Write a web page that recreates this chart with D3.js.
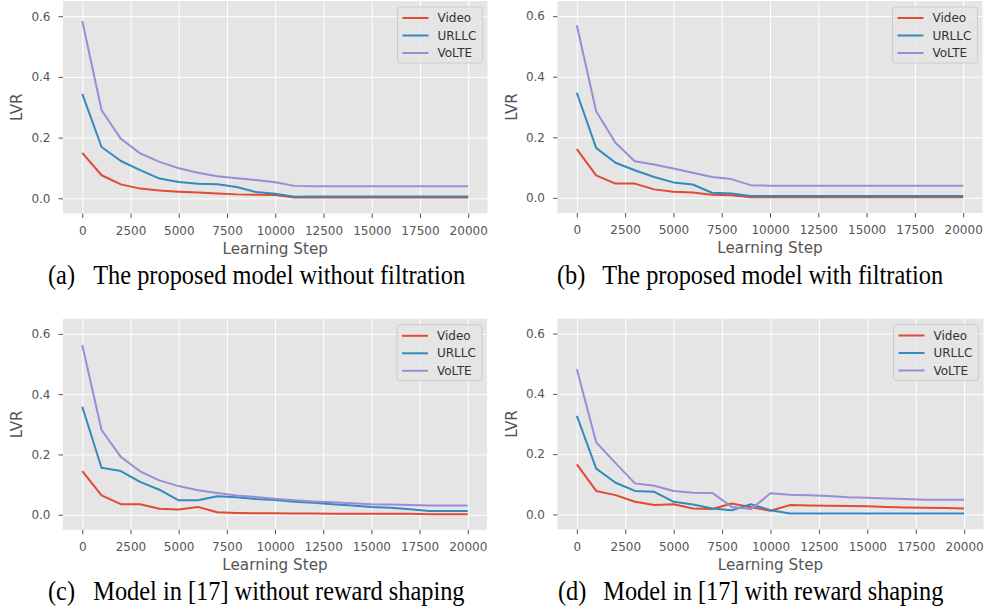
<!DOCTYPE html>
<html>
<head>
<meta charset="utf-8">
<script src="https://cdn.jsdelivr.net/npm/d3@7"></script>
<style>
  body { margin: 0; background: #fff; }
  svg { display: block; }
</style>
</head>
<body>
<svg id="chart" width="985" height="610"></svg>
<script>
// Learning steps shared by every panel
var steps = [0, 1000, 2000, 3000, 4000, 5000, 6000, 7000, 8000, 9000, 10000,
             11000, 12000, 13000, 14000, 15000, 16000, 17000, 18000, 19000, 20000];

var seriesNames = ["Video", "URLLC", "VoLTE"];
var xTicks = [0, 2500, 5000, 7500, 10000, 12500, 15000, 17500, 20000];
var yTicks = [0.0, 0.2, 0.4, 0.6];

// (a) proposed model without filtration
var videoA = [0.150, 0.076, 0.046, 0.032, 0.026, 0.022, 0.019, 0.016, 0.013, 0.012, 0.011,
              0.003, 0.003, 0.003, 0.003, 0.003, 0.003, 0.003, 0.003, 0.003, 0.003];
var urllcA = [0.344, 0.169, 0.123, 0.093, 0.065, 0.054, 0.048, 0.046, 0.037, 0.021, 0.015,
              0.005, 0.006, 0.006, 0.006, 0.006, 0.006, 0.006, 0.006, 0.006, 0.006];
var volteA = [0.584, 0.290, 0.196, 0.148, 0.120, 0.099, 0.084, 0.073, 0.066, 0.060, 0.053,
              0.041, 0.040, 0.040, 0.040, 0.040, 0.040, 0.040, 0.040, 0.040, 0.040];

// (b) proposed model with filtration
var videoB = [0.161, 0.074, 0.047, 0.047, 0.028, 0.020, 0.018, 0.010, 0.009, 0.002, 0.002,
              0.002, 0.002, 0.002, 0.002, 0.002, 0.002, 0.002, 0.002, 0.002, 0.002];
var urllcB = [0.347, 0.165, 0.116, 0.091, 0.069, 0.051, 0.044, 0.017, 0.014, 0.006, 0.006,
              0.006, 0.006, 0.006, 0.006, 0.006, 0.006, 0.006, 0.006, 0.006, 0.006];
var volteB = [0.570, 0.286, 0.182, 0.121, 0.110, 0.097, 0.083, 0.069, 0.062, 0.042, 0.040,
              0.040, 0.040, 0.040, 0.040, 0.040, 0.040, 0.040, 0.040, 0.040, 0.040];

// (c) model in [17] without reward shaping
var videoC = [0.145, 0.064, 0.035, 0.035, 0.020, 0.017, 0.026, 0.008, 0.006, 0.005, 0.005,
              0.004, 0.004, 0.003, 0.003, 0.003, 0.003, 0.003, 0.002, 0.002, 0.002];
var urllcC = [0.358, 0.156, 0.145, 0.109, 0.083, 0.048, 0.048, 0.061, 0.058, 0.052, 0.049,
              0.043, 0.040, 0.035, 0.031, 0.026, 0.023, 0.018, 0.012, 0.012, 0.012];
var volteC = [0.563, 0.281, 0.192, 0.144, 0.114, 0.095, 0.081, 0.072, 0.064, 0.059, 0.053,
              0.048, 0.044, 0.041, 0.038, 0.035, 0.034, 0.032, 0.031, 0.031, 0.031];

// (d) model in [17] with reward shaping
var videoD = [0.166, 0.078, 0.064, 0.042, 0.031, 0.034, 0.020, 0.018, 0.036, 0.024, 0.012,
              0.031, 0.030, 0.029, 0.028, 0.027, 0.025, 0.023, 0.022, 0.021, 0.020];
var urllcD = [0.327, 0.152, 0.105, 0.078, 0.075, 0.042, 0.033, 0.020, 0.014, 0.034, 0.014,
              0.003, 0.003, 0.003, 0.003, 0.003, 0.003, 0.003, 0.003, 0.003, 0.003];
var volteD = [0.482, 0.239, 0.170, 0.103, 0.095, 0.078, 0.072, 0.071, 0.025, 0.018, 0.070,
              0.065, 0.064, 0.061, 0.057, 0.055, 0.053, 0.051, 0.049, 0.049, 0.049];

var captionLabels = ["(a)", "(b)", "(c)", "(d)"];
var captionTexts = ["The proposed model without filtration",
                    "The proposed model with filtration",
                    "Model in [17] without reward shaping",
                    "Model in [17] with reward shaping"];

var colors = ["#E24A33", "#348ABD", "#988ED5"]; // ggplot style cycle

// panel boxes (plot area) and caption anchors
var panels = [
    { x: 63,    y: 1,     w: 424.5, h: 212.5, series: [videoA, urllcA, volteA], cx: 48,  cy: 284 },
    { x: 557.5, y: 1,     w: 425,   h: 212,   series: [videoB, urllcB, volteB], cx: 557, cy: 284 },
    { x: 63,    y: 318.8, w: 424,   h: 211,   series: [videoC, urllcC, volteC], cx: 48,  cy: 600 },
    { x: 557.5, y: 318.5, w: 426,   h: 211,   series: [videoD, urllcD, volteD], cx: 558, cy: 600 }
];

var svg = d3.select("#chart");
var tickFont = "'DejaVu Sans', sans-serif";

panels.forEach(function(p, idx) {
    var g = svg.append("g")
        .attr("transform", "translate(" + p.x + "," + p.y + ")");

    var xScale = d3.scaleLinear().domain([-1000, 21000]).range([0, p.w]);
    var yScale = d3.scaleLinear().domain([-0.05, 0.65]).range([p.h, 0]);

    g.append("rect")
        .attr("width", p.w)
        .attr("height", p.h)
        .attr("fill", "#E5E5E5");

    // white grid
    g.append("g")
        .call(d3.axisBottom(xScale).tickValues(xTicks).tickSize(p.h).tickFormat(""))
        .call(function(s) {
            s.select(".domain").remove();
            s.selectAll("line").attr("stroke", "#fff").attr("stroke-width", 1);
        });
    g.append("g")
        .call(d3.axisLeft(yScale).tickValues(yTicks).tickSize(-p.w).tickFormat(""))
        .call(function(s) {
            s.select(".domain").remove();
            s.selectAll("line").attr("stroke", "#fff").attr("stroke-width", 1);
        });

    // axes
    var xAxis = d3.axisBottom(xScale).tickValues(xTicks).tickSize(4.5).tickPadding(8)
        .tickFormat(d3.format("d"));
    var yAxis = d3.axisLeft(yScale).tickValues(yTicks).tickSize(4.5).tickPadding(8)
        .tickFormat(d3.format(".1f"));

    g.append("g")
        .attr("transform", "translate(0," + p.h + ")")
        .call(xAxis)
        .call(styleAxis);
    g.append("g")
        .call(yAxis)
        .call(styleAxis);

    g.append("text")
        .attr("x", p.w / 2)
        .attr("y", p.h + 40)
        .attr("text-anchor", "middle")
        .style("font-family", tickFont)
        .style("font-size", "15.2px")
        .attr("fill", "#555555")
        .text("Learning Step");

    g.append("text")
        .attr("transform", "translate(-41," + (p.h / 2) + ") rotate(-90)")
        .attr("text-anchor", "middle")
        .style("font-family", tickFont)
        .style("font-size", "15.2px")
        .attr("fill", "#555555")
        .text("LVR");

    // lines
    var line = d3.line()
        .x(function(d, i) { return xScale(steps[i]); })
        .y(function(d) { return yScale(d); });

    p.series.forEach(function(values, i) {
        g.append("path")
            .datum(values)
            .attr("d", line)
            .attr("fill", "none")
            .attr("stroke", colors[i])
            .attr("stroke-width", 2)
            .attr("stroke-linejoin", "round");
    });

    // legend
    var boxW = 85, boxH = 56;
    var lg = g.append("g")
        .attr("transform", "translate(" + (p.w - 5 - boxW) + ",6)");
    lg.append("rect")
        .attr("width", boxW)
        .attr("height", boxH)
        .attr("rx", 3)
        .attr("fill", "#E5E5E5")
        .attr("fill-opacity", 0.8)
        .attr("stroke", "#CCCCCC")
        .attr("stroke-width", 1);
    seriesNames.forEach(function(name, i) {
        var yy = 11 + i * 17.5;
        lg.append("line")
            .attr("x1", 5).attr("x2", 31)
            .attr("y1", yy).attr("y2", yy)
            .attr("stroke", colors[i])
            .attr("stroke-width", 2);
        lg.append("text")
            .attr("x", 40)
            .attr("y", yy)
            .attr("dy", "0.35em")
            .style("font-family", tickFont)
            .style("font-size", "12px")
            .attr("fill", "#333")
            .text(name);
    });

    // caption
    var cap = svg.append("g")
        .attr("transform", "translate(" + p.cx + "," + p.cy + ") scale(0.87,1)")
        .style("font-family", "'Liberation Serif', 'Times New Roman', serif")
        .style("font-size", "28px")
        .attr("fill", "#000");
    cap.append("text").attr("x", 0).attr("y", 0).text(captionLabels[idx]);
    cap.append("text").attr("x", 52).attr("y", 0).text(captionTexts[idx]);
});

function styleAxis(s) {
    s.select(".domain").remove();
    s.selectAll(".tick line").attr("stroke", "#555555").attr("stroke-width", 1);
    s.selectAll(".tick text")
        .attr("fill", "#555555")
        .style("font-family", tickFont)
        .style("font-size", "12px");
}
</script>
</body>
</html>
